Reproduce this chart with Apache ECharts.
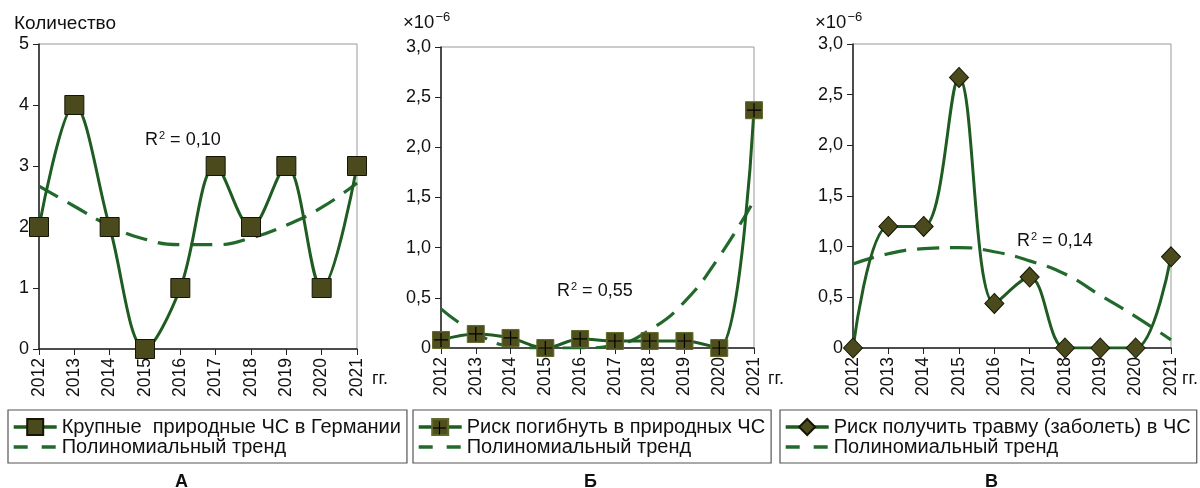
<!DOCTYPE html>
<html>
<head>
<meta charset="utf-8">
<script src="https://cdn.jsdelivr.net/npm/echarts@6/dist/echarts.min.js"></script>
<style>
  html, body { margin: 0; padding: 0; background: #fff; }
  #chart { width: 1200px; height: 488px; }
</style>
</head>
<body>
<div id="chart"></div>
<script>
// Years on the horizontal axes
const years = ['2012', '2013', '2014', '2015', '2016', '2017', '2018', '2019', '2020', '2021'];

// А: major natural emergencies in Germany (count) and its polynomial trend
const disastersCount = [2, 4, 2, 0, 1, 3, 2, 3, 1, 3];
const disastersTrend = [2.67, 2.34, 2.02, 1.80, 1.71, 1.71, 1.82, 2.03, 2.32, 2.72];

// Б: risk of dying in natural emergencies (×10^-6) and trend
const deathRisk = [0.08, 0.14, 0.10, 0.00, 0.09, 0.07, 0.07, 0.07, 0.00, 2.37];
const deathTrend = [0.39, 0.15, 0.02, 0.00, 0.00, 0.03, 0.18, 0.46, 0.91, 1.47];

// В: risk of injury (illness) in emergencies (×10^-6) and trend
const injuryRisk = [0.00, 1.20, 1.20, 2.67, 0.44, 0.70, 0.00, 0.00, 0.00, 0.90];
const injuryTrend = [0.83, 0.93, 0.98, 0.99, 0.95, 0.86, 0.73, 0.52, 0.31, 0.08];

// Axis tick settings
const countTicks = { min: 0, max: 5, interval: 1 };
const riskTicks = { min: 0, max: 3, interval: 0.5 };

// Text
const nameA = 'Крупные  природные ЧС в Германии';
const nameB = 'Риск погибнуть в природных ЧС';
const nameC = 'Риск получить травму (заболеть) в ЧС';
const nameTrend = 'Полиномиальный тренд';
const r2Values = ['0,10', '0,55', '0,14'];
const panelLetters = ['А', 'Б', 'В'];

const FONT = '"Liberation Sans", Arial, sans-serif';
const LINE_GREEN = '#1f5c22';
const TREND_GREEN = '#216a2b';
const MARK_FILL = '#4a4a1c';

const chart = echarts.init(document.getElementById('chart'), null, { renderer: 'canvas' });

const grids = [
  { left: 39, top: 44, width: 318, height: 305 },
  { left: 441, top: 47, width: 313, height: 301 },
  { left: 853, top: 44, width: 318, height: 304 }
];

function xAxisFor(i) {
  return {
    type: 'category', gridIndex: i, data: years, boundaryGap: false,
    axisLine: { lineStyle: { color: '#222', width: 1.5 } },
    axisTick: { show: true, length: 6, lineStyle: { color: '#222' }, alignWithLabel: true },
    axisLabel: { rotate: 90, margin: 9, fontSize: 17.5, fontFamily: FONT, color: '#111', interval: 0 },
    splitLine: { show: false }
  };
}

function yAxisFor(i, ticks, fmt) {
  return Object.assign({
    type: 'value', gridIndex: i,
    axisLine: { show: true, lineStyle: { color: '#222', width: 1.5 } },
    axisTick: { show: true, length: 6, lineStyle: { color: '#222' } },
    axisLabel: { margin: 10, fontSize: 18, fontFamily: FONT, color: '#111', formatter: fmt },
    splitLine: { show: false }
  }, ticks);
}

const commaFmt = v => v === 0 ? '0' : v.toFixed(1).replace('.', ',');

const trendStyle = { color: TREND_GREEN, width: 3.2, type: [22, 11] };
const dataLine = { color: LINE_GREEN, width: 3 };

function trendSeries(i, values) {
  return {
    name: nameTrend, type: 'line', xAxisIndex: i, yAxisIndex: i,
    data: values, smooth: 0.5, symbol: 'none', z: 2,
    lineStyle: trendStyle, itemStyle: { color: TREND_GREEN },
    emphasis: { disabled: true }
  };
}

const plusPath = 'path://M-0.6,-7 L0.6,-7 L0.6,-0.6 L7,-0.6 L7,0.6 L0.6,0.6 L0.6,7 L-0.6,7 L-0.6,0.6 L-7,0.6 L-7,-0.6 L-0.6,-0.6 Z';

const series = [
  trendSeries(0, disastersTrend),
  {
    name: nameA, type: 'line', xAxisIndex: 0, yAxisIndex: 0, data: disastersCount,
    smooth: 0.35, symbol: 'rect', symbolSize: 19, z: 3,
    lineStyle: dataLine,
    itemStyle: { color: MARK_FILL, borderColor: '#151505', borderWidth: 1 },
    emphasis: { disabled: true }
  },
  trendSeries(1, deathTrend),
  {
    name: nameB, type: 'line', xAxisIndex: 1, yAxisIndex: 1, data: deathRisk,
    smooth: 0.35, symbol: 'rect', symbolSize: 17, z: 3,
    lineStyle: dataLine,
    itemStyle: { color: '#4f4f1e', borderColor: '#5f6a2a', borderWidth: 1 },
    emphasis: { disabled: true }
  },
  {
    // black cross drawn over each square of Б
    name: 'cross', type: 'line', xAxisIndex: 1, yAxisIndex: 1, data: deathRisk,
    symbol: plusPath, symbolSize: 14, z: 4, lineStyle: { opacity: 0 },
    itemStyle: { color: '#000' }, emphasis: { disabled: true }, silent: true
  },
  trendSeries(2, injuryTrend),
  {
    name: nameC, type: 'line', xAxisIndex: 2, yAxisIndex: 2, data: injuryRisk,
    smooth: 0.35, symbol: 'diamond', symbolSize: [19, 20], z: 3,
    lineStyle: dataLine,
    itemStyle: { color: MARK_FILL, borderColor: '#151505', borderWidth: 1 },
    emphasis: { disabled: true }
  }
];

const LEG_TOP = 410, LEG_PAD_TOP = 7, LEG_PAD_LEFT = 4, ICON_W = 43, ICON_H = 20;

function legendFor(left, name) {
  return {
    left: left, top: LEG_TOP, orient: 'vertical',
    borderColor: '#555', borderWidth: 1.2, padding: [LEG_PAD_TOP, 6, 6, LEG_PAD_LEFT], itemGap: 0,
    itemWidth: ICON_W, itemHeight: ICON_H,
    textStyle: { fontSize: 20, fontFamily: FONT, color: '#111' },
    selectedMode: false,
    data: [
      { name: name, lineStyle: { width: 3.4 } },
      {
        name: nameTrend,
        lineStyle: { type: [14, 14], width: 3.4 },
        itemStyle: { color: 'rgba(0,0,0,0)', borderColor: 'rgba(0,0,0,0)', borderWidth: 0 }
      }
    ]
  };
}

function sup(parts, left, top, size, supSize) {
  return {
    type: 'text', left: left, top: top,
    style: {
      text: '{b|' + parts[0] + '}{s|' + parts[1] + '}{b|' + parts[2] + '}',
      rich: {
        b: { fontSize: size, fontFamily: FONT, fill: '#111' },
        s: { fontSize: supSize, fontFamily: FONT, fill: '#111', padding: [0, 0, 10, 1] }
      }
    }
  };
}

const labelStyle = { fontSize: 18, fontFamily: FONT, fill: '#111' };
const letterStyle = { fontSize: 18, fontWeight: 'bold', fontFamily: FONT, fill: '#111' };

const graphics = [
  { type: 'text', left: 14, top: 14, style: { text: 'Количество', fontSize: 19, fontFamily: FONT, fill: '#111' } },
  sup(['×10', '−6', ''], 403, 11, 18.5, 13),
  sup(['×10', '−6', ''], 815, 11, 18.5, 13),
  sup(['R', '2', ' = ' + r2Values[0]], 145, 130, 18, 11),
  sup(['R', '2', ' = ' + r2Values[1]], 557, 281, 18, 11),
  sup(['R', '2', ' = ' + r2Values[2]], 1017, 231, 18, 11),
  { type: 'text', left: 372, top: 370, style: Object.assign({ text: 'гг.' }, labelStyle) },
  { type: 'text', left: 768, top: 370, style: Object.assign({ text: 'гг.' }, labelStyle) },
  { type: 'text', left: 1182, top: 370, style: Object.assign({ text: 'гг.' }, labelStyle) },
  { type: 'text', left: 175, top: 473, style: Object.assign({ text: panelLetters[0] }, letterStyle) },
  { type: 'text', left: 584, top: 473, style: Object.assign({ text: panelLetters[1] }, letterStyle) },
  { type: 'text', left: 985, top: 473, style: Object.assign({ text: panelLetters[2] }, letterStyle) }
];

// cross on the Б legend marker
const crossX = 413 + 1 + LEG_PAD_LEFT + ICON_W / 2;
const crossY = LEG_TOP + 1 + LEG_PAD_TOP + ICON_H / 2;
graphics.push(
  { type: 'rect', z: 100, shape: { x: crossX - 0.6, y: crossY - 6.5, width: 1.2, height: 13 }, style: { fill: '#000' } },
  { type: 'rect', z: 100, shape: { x: crossX - 6.5, y: crossY - 0.6, width: 13, height: 1.2 }, style: { fill: '#000' } }
);

chart.setOption({
  animation: false,
  backgroundColor: '#fff',
  grid: grids.map(g => Object.assign({ show: true, borderColor: '#999', borderWidth: 1, backgroundColor: 'transparent' }, g)),
  xAxis: [xAxisFor(0), xAxisFor(1), xAxisFor(2)],
  yAxis: [
    yAxisFor(0, countTicks, v => String(v)),
    yAxisFor(1, riskTicks, commaFmt),
    yAxisFor(2, riskTicks, commaFmt)
  ],
  legend: [legendFor(8, nameA), legendFor(413, nameB), legendFor(780, nameC)],
  series: series,
  graphic: graphics
});
</script>
</body>
</html>
